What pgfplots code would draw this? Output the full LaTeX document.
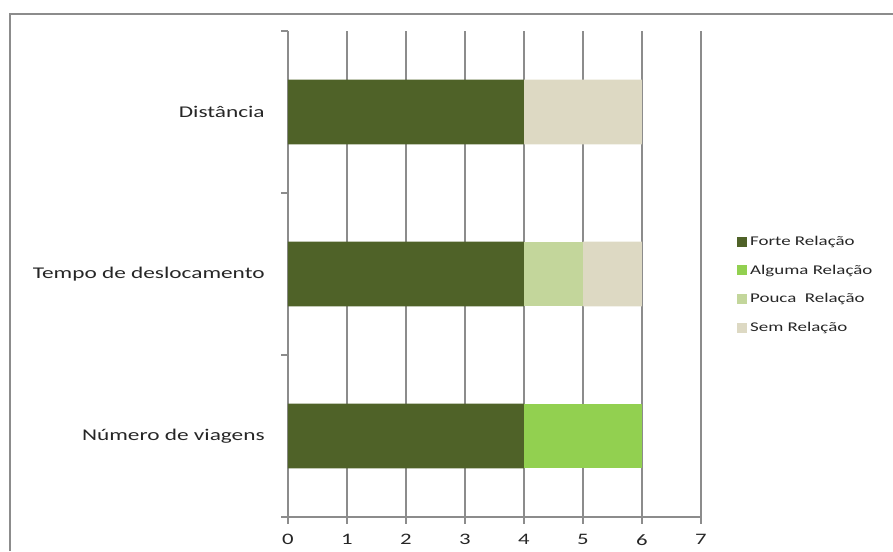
\documentclass[border=0pt]{standalone}
\usepackage{pgfplots}
\pgfplotsset{compat=1.18}
\usepackage{fontspec}
\setmainfont[FakeStretch=1.42]{Carlito}

\definecolor{forte}{HTML}{4F6228}
\definecolor{alguma}{HTML}{92D050}
\definecolor{pouca}{HTML}{C3D69B}
\definecolor{sem}{HTML}{DDD9C3}
\definecolor{gridgray}{HTML}{8C8C8C}

\begin{document}
\begin{tikzpicture}
\useasboundingbox (0pt,0pt) rectangle (669.75pt,413.25pt);
% outer chart frame (top and left edges)
\draw[gridgray, line width=1.2pt] (7.5pt,0pt) -- (7.5pt,402.75pt) -- (669.75pt,402.75pt);
\begin{axis}[
  at={(216pt,25.5pt)}, anchor=south west,
  scale only axis, width=309.75pt, height=364.5pt,
  xbar stacked, bar width=0.4,
  xmin=0, xmax=7, ymin=-0.5, ymax=2.5,
  axis lines*=left,
  axis line style={gridgray, line width=0.8pt},
  xtick={0,...,7},
  xmajorgrids, grid style={gridgray, line width=0.8pt},
  tick align=outside, tick pos=left,
  major tick length=5pt,
  tick style={gridgray, line width=0.8pt},
  ytick={-0.5,0.5,1.5,2.5}, yticklabels={},
  extra y ticks={0,1,2},
  extra y tick labels={Número de viagens, Tempo de deslocamento, Distância},
  extra y tick style={major tick length=0pt, grid=none,
     yticklabel style={xshift=-14pt}},
  ticklabel style={font=\fontsize{12.3}{14}\selectfont, text=black!85},
  xticklabel style={font=\fontsize{12}{14}\selectfont, yshift=-4.5pt},
  /pgf/number format/assume math mode=true,
  legend style={at={(1.078,0.478)}, anchor=west, draw=none, fill=none,
     font=\fontsize{10}{12}\selectfont, row sep=9pt,
     legend cell align=left, text=black!85},
  legend image code/.code={\fill[#1,draw=none] (0pt,-3.75pt) rectangle (7.5pt,3.75pt);},
]
\addplot[fill=forte, draw=none] coordinates {(4,0) (4,1) (4,2)};
\addplot[fill=alguma, draw=none] coordinates {(2,0) (0,1) (0,2)};
\addplot[fill=pouca, draw=none] coordinates {(0,0) (1,1) (0,2)};
\addplot[fill=sem, draw=none] coordinates {(0,0) (1,1) (2,2)};
\legend{Forte Relação, Alguma Relação, Pouca\ \ Relação, Sem Relação}
\end{axis}
\end{tikzpicture}
\end{document}
